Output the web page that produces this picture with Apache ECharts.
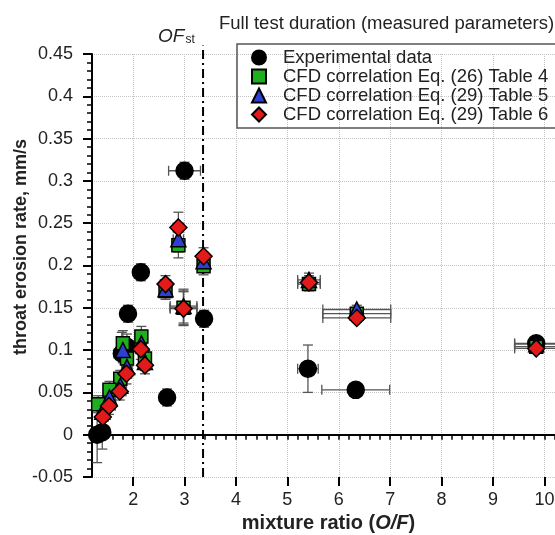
<!DOCTYPE html>
<html>
<head>
<meta charset="utf-8">
<script src="https://cdn.jsdelivr.net/npm/echarts@6/dist/echarts.min.js"></script>
<style>
  html, body { margin: 0; padding: 0; background: #fff; }
  #chart { width: 555px; height: 535px; }
</style>
</head>
<body>
<div id="chart"></div>
<script>
// each point: [O/F, erosion rate mm/s, x error, y error]
const expData = [
  [3.0, 0.312, 0.31, 0.01],
  [2.15, 0.192, 0.1, 0.01],
  [1.9, 0.143, 0.1, 0.01],
  [3.38, 0.137, 0.1, 0.01],
  [2.66, 0.044, 0.08, 0.01],
  [5.4, 0.078, 0.2, 0.028],
  [6.33, 0.053, 0.66, 0],
  [9.84, 0.108, 0.42, 0.006],
  [1.78, 0.096, 0.15, 0.025],
  [1.88, 0.104, 0.1, 0.015],
  [1.3, 0.0, 0.1, 0.033],
  [1.4, 0.003, 0.12, 0.02]
];
const table4Data = [
  [2.88, 0.224, 0.1, 0.015],
  [3.37, 0.199, 0.08, 0.01],
  [2.63, 0.170, 0.1, 0.01],
  [2.98, 0.150, 0.26, 0.02],
  [5.42, 0.178, 0.22, 0.008],
  [6.35, 0.143, 0.66, 0.005],
  [9.84, 0.104, 0.42, 0.005],
  [2.16, 0.116, 0.1, 0.012],
  [2.23, 0.090, 0.1, 0.01],
  [1.8, 0.108, 0.12, 0.015],
  [1.88, 0.090, 0.1, 0.012],
  [1.75, 0.066, 0.12, 0.01],
  [1.54, 0.053, 0.12, 0.01],
  [1.32, 0.036, 0.1, 0.01]
];
const table5Data = [
  [2.88, 0.231, 0.1, 0.015],
  [3.37, 0.205, 0.08, 0.01],
  [2.63, 0.172, 0.1, 0.01],
  [2.98, 0.152, 0.26, 0.02],
  [5.42, 0.183, 0.22, 0.008],
  [6.35, 0.148, 0.66, 0.005],
  [9.84, 0.107, 0.42, 0.005],
  [2.16, 0.108, 0.1, 0.012],
  [2.23, 0.086, 0.1, 0.01],
  [1.8, 0.100, 0.12, 0.015],
  [1.88, 0.080, 0.1, 0.012],
  [1.75, 0.058, 0.12, 0.01],
  [1.54, 0.044, 0.12, 0.01],
  [1.4, 0.027, 0.1, 0.01]
];
const table6Data = [
  [2.88, 0.245, 0.1, 0.018],
  [3.37, 0.211, 0.08, 0.01],
  [2.63, 0.178, 0.1, 0.01],
  [2.98, 0.149, 0.26, 0.02],
  [5.42, 0.180, 0.22, 0.008],
  [6.35, 0.138, 0.66, 0.005],
  [9.84, 0.102, 0.42, 0.005],
  [2.15, 0.101, 0.1, 0.012],
  [2.23, 0.082, 0.1, 0.01],
  [1.87, 0.072, 0.1, 0.012],
  [1.74, 0.051, 0.12, 0.01],
  [1.53, 0.034, 0.12, 0.01],
  [1.41, 0.021, 0.1, 0.01]
];
const xMajorTicks = [2, 3, 4, 5, 6, 7, 8, 9, 10];
const ofStoich = 3.36;
const ofLineY = [-0.05, 0.46];
const seriesNames = [
  "Experimental data",
  "CFD correlation Eq. (26) Table 4",
  "CFD correlation Eq. (29) Table 5",
  "CFD correlation Eq. (29) Table 6"
];

const FONT = "'Liberation Sans', Arial, sans-serif";
const GRID_LINE = { color: "#c4c4c4", type: "dotted", width: 1 };
const chart = echarts.init(document.getElementById("chart"));

// error bars with caps
function renderErrorBars(params, api) {
  const x = api.value(0), y = api.value(1);
  const xe = api.value(2), ye = api.value(3);
  const cap = 5;
  const style = { stroke: "#555", lineWidth: 1.3 };
  const kids = [];
  if (xe > 0) {
    const l = api.coord([x - xe, y]);
    const r = api.coord([x + xe, y]);
    kids.push({ type: "line", shape: { x1: l[0], y1: l[1], x2: r[0], y2: r[1] }, style });
    kids.push({ type: "line", shape: { x1: l[0], y1: l[1] - cap, x2: l[0], y2: l[1] + cap }, style });
    kids.push({ type: "line", shape: { x1: r[0], y1: r[1] - cap, x2: r[0], y2: r[1] + cap }, style });
  }
  if (ye > 0) {
    const b = api.coord([x, y - ye]);
    const t = api.coord([x, y + ye]);
    kids.push({ type: "line", shape: { x1: b[0], y1: b[1], x2: t[0], y2: t[1] }, style });
    kids.push({ type: "line", shape: { x1: b[0] - cap, y1: b[1], x2: b[0] + cap, y2: b[1] }, style });
    kids.push({ type: "line", shape: { x1: t[0] - cap, y1: t[1], x2: t[0] + cap, y2: t[1] }, style });
  }
  return { type: "group", children: kids };
}

function errSeries(data) {
  return {
    type: "custom",
    renderItem: renderErrorBars,
    data: data,
    encode: { x: 0, y: 1 },
    z: 1,
    silent: true
  };
}

function pointSeries(name, data, symbol, size, color) {
  return {
    name: name,
    type: "scatter",
    data: data.map(d => [d[0], d[1]]),
    symbol: symbol,
    symbolSize: size,
    itemStyle: { color: color, borderColor: "#000", borderWidth: 1.5, opacity: 1 },
    z: 6
  };
}

chart.setOption({
  animation: false,
  textStyle: { fontFamily: FONT },
  title: {
    text: "Full test duration (measured parameters)",
    left: 214,
    top: 9,
    textStyle: { fontSize: 18.5, fontWeight: "normal", color: "#222", fontFamily: FONT }
  },
  legend: {
    data: seriesNames,
    orient: "vertical",
    left: 237,
    top: 44,
    padding: [4, 40, 4, 14],
    itemGap: 0,
    itemWidth: 14,
    itemHeight: 14,
    selectedMode: false,
    borderColor: "#555",
    borderWidth: 1.5,
    formatter: name => "{t|" + name + "}",
    textStyle: {
      fontSize: 18.5, lineHeight: 17, color: "#222", fontFamily: FONT,
      rich: { t: { fontSize: 18.5, lineHeight: 17, color: "#222", fontFamily: FONT, padding: [0, 0, 0, 12] } }
    }
  },
  grid: { left: 92, top: 54, width: 473, height: 423, outerBoundsMode: "none", containLabel: false },
  xAxis: [
    {
      type: "value",
      min: 1.2,
      max: 10.4,
      interval: 0.2,
      axisLine: { lineStyle: { color: "#000", width: 2 } },
      axisTick: { length: 5, lineStyle: { color: "#000", width: 1.5 } },
      axisLabel: { show: false },
      splitLine: { show: false }
    },
    {
      type: "value",
      min: 1.2,
      max: 10.4,
      position: "bottom",
      axisLine: { show: false },
      axisTick: { length: 9, customValues: xMajorTicks, lineStyle: { color: "#000", width: 2 } },
      axisLabel: {
        fontSize: 18,
        color: "#222",
        margin: 14,
        customValues: xMajorTicks
      },
      splitLine: { show: false },
      name: "{n|mixture ratio (}{i|O/F}{n|)}",
      nameLocation: "middle",
      nameGap: 36,
      nameTextStyle: {
        rich: {
          n: { fontSize: 20, fontWeight: "bold", color: "#222", fontFamily: FONT },
          i: { fontSize: 20, fontWeight: "bold", fontStyle: "italic", color: "#222", fontFamily: FONT }
        }
      }
    }
  ],
  yAxis: {
    type: "value",
    min: -0.05,
    max: 0.45,
    interval: 0.05,
    axisLine: { show: true, lineStyle: { color: "#000", width: 2 } },
    axisTick: { show: true, length: 9, lineStyle: { color: "#000", width: 2 } },
    minorTick: { show: true, splitNumber: 5, length: 5, lineStyle: { color: "#000", width: 1.5 } },
    axisLabel: {
      fontSize: 18,
      color: "#222",
      margin: 19,
      formatter: v => String(Math.round(v * 100) / 100)
    },
    splitLine: { show: true, lineStyle: GRID_LINE }
  },
  graphic: [
    {
      type: "text",
      x: 21,
      y: 247,
      rotation: Math.PI / 2,
      style: {
        text: "throat erosion rate, mm/s",
        fontSize: 18,
        fontWeight: "bold",
        fontFamily: FONT,
        fill: "#222",
        textAlign: "center",
        textVerticalAlign: "middle"
      }
    },
    {
      type: "text",
      x: 158,
      y: 27,
      style: {
        text: "{i|OF}{s|st}",
        fontFamily: FONT,
        rich: {
          i: { fontSize: 19, fontStyle: "italic", fill: "#222", color: "#222", fontFamily: FONT },
          s: { fontSize: 12, fill: "#222", color: "#222", fontFamily: FONT, verticalAlign: "bottom", padding: [6, 0, 0, 1] }
        }
      }
    }
  ],
  series: [
    {
      // vertical grid lines at the major O/F ticks
      type: "line",
      data: [],
      silent: true,
      z: 0,
      markLine: {
        silent: true,
        z: 0,
        symbol: "none",
        label: { show: false },
        lineStyle: GRID_LINE,
        emphasis: { disabled: true },
        data: xMajorTicks.map(v => ({ xAxis: v }))
      }
    },
    {
      type: "line",
      data: ofLineY.map(y => [ofStoich, y]),
      symbol: "none",
      clip: false,
      silent: true,
      lineStyle: { color: "#000", width: 2, type: [9, 4, 2, 4] },
      z: 2
    },
    errSeries(expData),
    errSeries(table4Data),
    errSeries(table5Data),
    errSeries(table6Data),
    pointSeries(seriesNames[0], expData, "circle", 17, "#000"),
    pointSeries(seriesNames[1], table4Data, "rect", 13, "#1fae1f"),
    pointSeries(seriesNames[2], table5Data, "triangle", 15, "#2f3fd6"),
    pointSeries(seriesNames[3], table6Data, "diamond", 17, "#e21a1a")
  ]
});
</script>
</body>
</html>
